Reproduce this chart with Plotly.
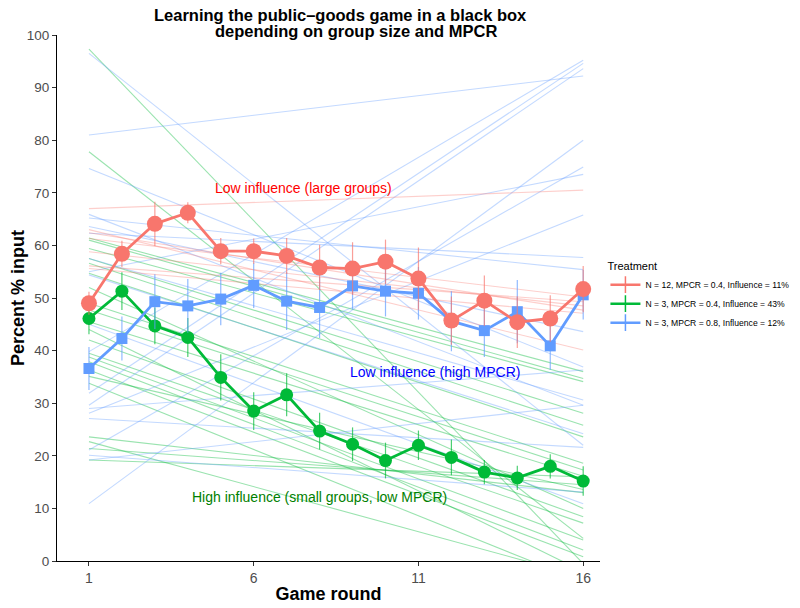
import plotly.graph_objects as go

rounds = list(range(1, 17))

# Mean % input per round for each treatment
red_mean = [49.0, 58.4, 64.1, 66.2, 58.9, 58.9, 58.0, 55.8, 55.6, 56.9, 53.7, 45.7, 49.5, 45.4, 46.1, 51.7]
red_err = [2.2, 2.5, 4.2, 2.0, 2.5, 2.4, 3.4, 4.3, 5.0, 4.2, 5.9, 4.6, 4.8, 4.9, 4.4, 4.4]
green_mean = [46.1, 51.3, 44.7, 42.5, 34.9, 28.5, 31.6, 24.7, 22.2, 19.1, 22.0, 19.7, 16.9, 15.8, 18.0, 15.2]
green_err = [3.0, 3.6, 3.5, 3.7, 4.4, 3.6, 4.1, 3.5, 3.2, 3.4, 2.8, 3.4, 2.3, 2.3, 2.3, 2.8]
blue_mean = [36.6, 42.3, 49.3, 48.5, 49.8, 52.4, 49.4, 48.2, 52.3, 51.3, 50.9, 45.6, 43.8, 47.4, 40.9, 50.6]
blue_err = [4.1, 4.2, 5.2, 5.1, 5.0, 4.3, 5.5, 5.8, 4.5, 4.8, 5.0, 5.7, 5.0, 6.0, 4.6, 4.7]

# Per-group linear trends: value at round 1 and at round 16
red_start = [67.0, 63.0, 62.4, 61.3, 58.8, 56.1, 55.6]
red_end = [70.5, 40.1, 47.7, 50.2, 48.5, 49.3, 47.1]
green_start = [97.3, 77.8, 61.4, 61.0, 59.4, 57.5, 56.6, 54.7, 52.0, 49.0, 47.7, 45.5, 44.0, 42.0,
               39.5, 38.8, 37.9, 36.3, 35.1, 33.8, 23.6, 22.7, 21.4, 19.2]
green_end = [-0.5, 4.3, 36.0, 34.7, 34.1, 28.1, 25.8, 23.6, 10.0, 18.6, 17.3, 16.1, -2.0, 8.4,
             7.2, 4.0, 2.1, 0.8, 13.6, -4.0, 13.0, -3.0, 14.5, 16.0]
blue_start = [96.5, 81.0, 74.6, 65.9, 65.2, 63.6, 62.3, 57.5, 55.0, 54.4, 45.0, 39.8, 31.9, 29.6,
              29.0, 28.1, 27.1, 21.1, 20.1, 19.2, 10.9]
blue_end = [22.0, 92.2, 36.9, 29.6, 55.4, 43.6, 57.7, 30.6, 73.5, 24.2, 10.9, 95.2, 94.6, 93.6,
            36.3, 65.8, 21.6, 74.9, 13.1, 29.6, 80.0]

x_ticks = [1, 6, 11, 16]
y_ticks = list(range(0, 101, 10))

labels = ["N = 12, MPCR = 0.4, Influence = 11%",
          "N = 3, MPCR = 0.4, Influence = 43%",
          "N = 3, MPCR = 0.8, Influence = 12%"]

title_lines = ["Learning the public–goods game in a black box",
               "depending on group size and MPCR"]

RED, GREEN, BLUE = "#F8766D", "#00BA38", "#619CFF"
RED_A, GREEN_A, BLUE_A = "rgba(248,118,109,0.35)", "rgba(0,186,56,0.4)", "rgba(97,156,255,0.38)"

fig = go.Figure()


def seg_trace(starts, ends, color):
    xs, ys = [], []
    for s, e in zip(starts, ends):
        xs += [1, 16, None]
        ys += [s, e, None]
    return go.Scatter(x=xs, y=ys, mode="lines", line=dict(color=color, width=1.1),
                      showlegend=False, hoverinfo="skip")


fig.add_trace(seg_trace(green_start, green_end, GREEN_A))
fig.add_trace(seg_trace(blue_start, blue_end, BLUE_A))
fig.add_trace(seg_trace(red_start, red_end, RED_A))


def main_trace(y, err, color, ecolor, symbol, size):
    return go.Scatter(x=rounds, y=y, mode="lines+markers",
                      line=dict(color=color, width=2.8),
                      marker=dict(color=color, symbol=symbol, size=size, line=dict(width=0)),
                      error_y=dict(type="data", array=err, visible=True, color=ecolor,
                                   thickness=1.2, width=0),
                      showlegend=False)


fig.add_trace(main_trace(green_mean, green_err, GREEN, "rgba(0,186,56,0.7)", "circle", 13))
fig.add_trace(main_trace(blue_mean, blue_err, BLUE, "rgba(97,156,255,0.7)", "square", 11))
fig.add_trace(main_trace(red_mean, red_err, RED, "rgba(248,118,109,0.7)", "circle", 16))

# Legend entries
for lab, col in zip(labels, [RED, GREEN, BLUE]):
    fig.add_trace(go.Scatter(x=[None], y=[None], mode="lines+markers", name=lab,
                             line=dict(color=col, width=2.5),
                             marker=dict(symbol="line-ns", size=12, color=col,
                                         line=dict(color=col, width=1.5))))

annots = [
    dict(x=7.5, y=71.0, text="Low influence (large groups)", color="#FF0000"),
    dict(x=11.5, y=35.9, text="Low influence (high MPCR)", color="#0000FF"),
    dict(x=8.0, y=12.2, text="High influence (small groups, low MPCR)", color="#008000"),
]
for a in annots:
    fig.add_annotation(x=a["x"], y=a["y"], text=a["text"], showarrow=False,
                       font=dict(color=a["color"], size=14, family="Liberation Sans"))

# Title (two centred lines)
fig.add_annotation(xref="paper", yref="paper", x=(340 - 57) / 543, y=(561 - 15) / 526,
                   text="<b>" + title_lines[0] + "</b>", showarrow=False,
                   xanchor="center", yanchor="middle", font=dict(size=16.5, color="black"))
fig.add_annotation(xref="paper", yref="paper", x=(356 - 57) / 543, y=(561 - 31) / 526,
                   text="<b>" + title_lines[1] + "</b>", showarrow=False,
                   xanchor="center", yanchor="middle", font=dict(size=16.5, color="black"))

fig.update_layout(
    width=800, height=608,
    paper_bgcolor="white", plot_bgcolor="white",
    font=dict(family="Liberation Sans", color="black"),
    margin=dict(l=49, r=208, t=27, b=55, autoexpand=False),
    xaxis=dict(range=[0.03, 16.51], tickvals=x_ticks, ticks="outside", ticklen=4,
               tickcolor="#333", showline=True, linecolor="black", linewidth=1.1,
               showgrid=False, zeroline=False, automargin=False,
               tickfont=dict(size=14, color="#4D4D4D"),
               title=dict(text="<b>Game round</b>", font=dict(size=18), standoff=2)),
    yaxis=dict(range=[0, 100], tickvals=y_ticks, ticks="outside", ticklen=4,
               tickcolor="#333", showline=True, linecolor="black", linewidth=1.1,
               showgrid=False, zeroline=False, automargin=False,
               tickfont=dict(size=13.5, color="#4D4D4D"),
               title=dict(text="<b>Percent % input</b>", font=dict(size=18), standoff=1)),
    legend=dict(x=1.01, y=0.58, xanchor="left", yanchor="top",
                title=dict(text="Treatment", font=dict(size=11)),
                font=dict(size=8.6), itemwidth=30, tracegroupgap=0,
                bgcolor="rgba(0,0,0,0)"),
)

fig.write_html("out.html")
